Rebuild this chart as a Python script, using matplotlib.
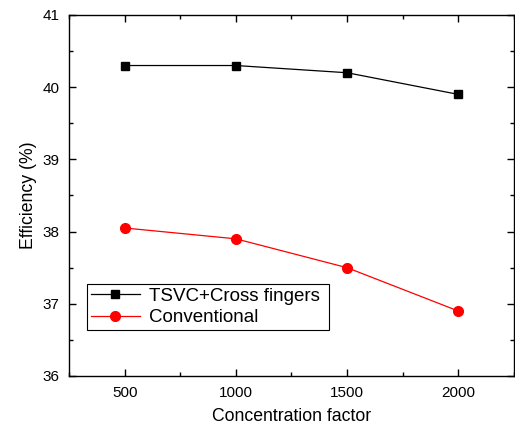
import matplotlib
matplotlib.use("Agg")
import matplotlib.pyplot as plt
from matplotlib.ticker import MultipleLocator

plt.rcParams["font.family"] = ["Liberation Sans", "DejaVu Sans"]

conc = [500, 1000, 1500, 2000]
eff_tsvc = [40.3, 40.3, 40.2, 39.9]
eff_conv = [38.05, 37.9, 37.5, 36.9]

fig = plt.figure(figsize=(5.15, 4.28), dpi=100)
ax = fig.add_axes([0.134, 0.1215, 0.864, 0.8435])

ax.plot(conc, eff_tsvc, "-s", color="black", lw=0.9, ms=6,
        label="TSVC+Cross fingers")
ax.plot(conc, eff_conv, "-o", color="red", mec="red", lw=0.9, ms=7,
        label="Conventional")

ax.set_xlim(250, 2250)
ax.set_ylim(36, 41)
ax.xaxis.set_major_locator(MultipleLocator(500))
ax.xaxis.set_minor_locator(MultipleLocator(250))
ax.yaxis.set_major_locator(MultipleLocator(1))
ax.yaxis.set_minor_locator(MultipleLocator(0.5))
ax.tick_params(which="both", direction="in", top=True, right=True,
               labelsize=11, width=1)
ax.tick_params(which="major", length=5, pad=7)
ax.tick_params(which="minor", length=3)
for sp in ax.spines.values():
    sp.set_linewidth(1)

ax.set_xlabel("Concentration factor", fontsize=12.7, labelpad=6)
ax.set_ylabel("Efficiency (%)", fontsize=12.7, labelpad=4)

leg = ax.legend(loc="lower left", bbox_to_anchor=(0.04, 0.127, 0.544, 0.13),
                mode="expand", fontsize=13.5, fancybox=False, framealpha=1,
                edgecolor="black", borderpad=0.2, labelspacing=0.25,
                handlelength=2.65, handletextpad=0.45, borderaxespad=0)
leg.get_frame().set_linewidth(0.8)

fig.savefig("out.png", dpi=100)
